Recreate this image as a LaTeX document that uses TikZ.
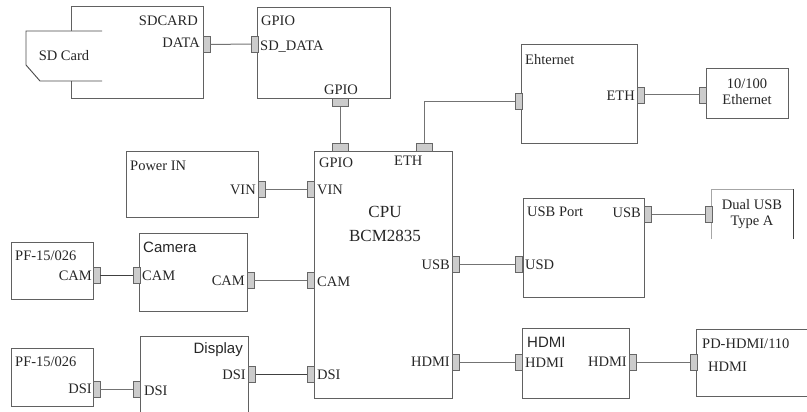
\documentclass[tikz,border=0pt]{standalone}
\usepackage{fontspec}
\setmainfont{Liberation Serif}
\setsansfont{Liberation Sans}
\usetikzlibrary{positioning}
\newcommand{\blockbox}[5]{\node[blk, minimum width=#4, minimum height=#5] (#1) at (#2,#3) {};}
\tikzset{blk/.style={draw=black!62, line width=0.9pt, anchor=north west, inner sep=0pt},
  vport/.style={draw=black!60, fill=black!20, line width=0.8pt, minimum width=7pt, minimum height=16pt, inner sep=0pt},
  hport/.style={draw=black!60, fill=black!20, line width=0.8pt, minimum width=16pt, minimum height=8pt, inner sep=0pt},
  wire/.style={draw=black!55, line width=1pt},
  lbl/.style={font=\fontsize{14.5}{16}\selectfont, inner sep=1pt, text=black!85},
  ttl/.style={font=\sffamily\fontsize{15}{17}\selectfont, inner sep=1pt, text=black!85}}

\begin{document}
\begin{tikzpicture}[x=1pt, y=-1pt]
\useasboundingbox (0,0) rectangle (807,412);
\clip (0,0) rectangle (807,412);
% blocks
\blockbox{sdbox}{71}{6}{132}{92}
\blockbox{gpiobox}{257}{7}{133}{91}
\blockbox{cpubox}{314}{151}{138}{247}
\blockbox{ethbox}{521}{44}{116}{99}
\blockbox{lanbox}{706}{68}{82}{50}
\blockbox{pwrbox}{126}{151}{132}{66}
\blockbox{cambox}{139}{233}{108}{78}
\blockbox{pfcambox}{11}{242}{82}{57}
\blockbox{dispbox}{140}{336}{108}{100}
\blockbox{pfdsibox}{11}{348}{82}{58}
\blockbox{usbbox}{523}{198}{121}{99}
\blockbox{hdmibox}{522}{328}{107}{70}
\blockbox{pdbox}{696}{329}{130}{67}
\draw[black!35, line width=0.9pt] (711,239) -- (711,189) -- (793,189);
\draw[black!75, line width=0.9pt] (793,189) -- (793,239);
% sd card
\fill[white] (102,31) -- (26,31) -- (26,65) -- (40,81) -- (102,81) -- cycle;
\draw[black!70, line width=0.9pt] (102,31) -- (26,31) -- (26,65) -- (40,81) -- (102,81);
\node[lbl] (sdcard) at (64,56) {SD Card};
% ports
\node[vport] (sdData) at (206.5,44.5) {};
\node[vport] (gpioSd) at (255,44) {};
\node[hport] (gpioOut) at (340,102.5) {};
\node[hport] (cpuGpio) at (340,147) {};
\node[hport] (cpuEth) at (424,147) {};
\node[vport] (ethIn) at (519,101.5) {};
\node[vport] (ethOut) at (641,95) {};
\node[vport] (lanIn) at (702.5,95) {};
\node[vport] (pwrVin) at (262,189) {};
\node[vport] (cpuVin) at (310.5,189) {};
\node[vport] (pfCam) at (96.5,275) {};
\node[vport] (camIn) at (136.5,275) {};
\node[vport] (camOut) at (250.5,280) {};
\node[vport] (cpuCam) at (310.5,280) {};
\node[vport] (cpuUsb) at (456,264) {};
\node[vport] (usbIn) at (519,264) {};
\node[vport] (usbOut) at (648,214) {};
\node[vport] (dualIn) at (708.5,214) {};
\node[vport] (pfDsi) at (96.5,389) {};
\node[vport] (dispIn) at (136.5,389) {};
\node[vport] (dispOut) at (252,374) {};
\node[vport] (cpuDsi) at (310.5,374) {};
\node[vport] (cpuHdmi) at (456,362) {};
\node[vport] (hdmiIn) at (519,362) {};
\node[vport] (hdmiOut) at (633,362) {};
\node[vport] (pdIn) at (693.5,362) {};
% wires
\draw[wire] (sdData) -- (gpioSd);
\draw[wire] (gpioOut) -- (cpuGpio);
\draw[wire] (cpuEth) |- (ethIn);
\draw[wire] (ethOut) -- (lanIn);
\draw[wire] (pwrVin) -- (cpuVin);
\draw[wire, black!75] (pfCam) -- (camIn);
\draw[wire] (camOut) -- (cpuCam);
\draw[wire] (cpuUsb) -- (usbIn);
\draw[wire] (usbOut) -- (dualIn);
\draw[wire] (pfDsi) -- (dispIn);
\draw[wire, black!75] (dispOut) -- (cpuDsi);
\draw[wire] (cpuHdmi) -- (hdmiIn);
\draw[wire] (hdmiOut) -- (pdIn);
% labels
\node[lbl, anchor=east] (sdTitle) at (199,21) {SDCARD};
\node[lbl, anchor=east] (sdDataL) at (201,43) {DATA};
\node[lbl, anchor=west] (gpioTitle) at (260,21) {GPIO};
\node[lbl, anchor=west] (gpioSdL) at (259,47) {SD\_DATA};
\node[lbl] (gpioOutL) at (341,90) {GPIO};
\node[lbl, anchor=west] (ethTitle) at (524,60) {Ehternet};
\node[lbl, anchor=east] (ethOutL) at (636,96) {ETH};
\node[lbl, align=center] (lanL) at (747,92) {10/100\\Ethernet};
\node[lbl, anchor=west] (pwrTitle) at (129,166) {Power IN};
\node[lbl, anchor=east] (pwrVinL) at (257,190) {VIN};
\node[lbl, anchor=west] (cpuVinL) at (316,190) {VIN};
\node[lbl, anchor=west] (cpuGpioL) at (318,163) {GPIO};
\node[lbl, anchor=west] (cpuEthL) at (393,161) {ETH};
\node[lbl, align=center, font=\fontsize{17}{24}\selectfont] (cpuL) at (385,224) {CPU\\BCM2835};
\node[lbl, anchor=west] (cpuCamL) at (316,282) {CAM};
\node[lbl, anchor=west] (cpuDsiL) at (316,375) {DSI};
\node[lbl, anchor=east] (cpuUsbL) at (451,265) {USB};
\node[lbl, anchor=east] (cpuHdmiL) at (451,362) {HDMI};
\node[ttl, anchor=west] (camTitle) at (142,247) {Camera};
\node[lbl, anchor=west] (camInL) at (141,276) {CAM};
\node[lbl, anchor=east] (camOutL) at (246,281) {CAM};
\node[lbl, anchor=west] (pfCamTitle) at (14,256) {PF-15/026};
\node[lbl, anchor=east] (pfCamL) at (93,276) {CAM};
\node[ttl, anchor=east] (dispTitle) at (244,350) {Display};
\node[lbl, anchor=east] (dispOutL) at (247,375) {DSI};
\node[lbl, anchor=west] (dispInL) at (143,391) {DSI};
\node[lbl, anchor=west] (pfDsiTitle) at (14,362) {PF-15/026};
\node[lbl, anchor=east] (pfDsiL) at (93,389) {DSI};
\node[lbl, anchor=west] (usbTitle) at (526,212) {USB Port};
\node[lbl, anchor=east] (usbOutL) at (642,213) {USB};
\node[lbl, anchor=west] (usbInL) at (524,265) {USD};
\node[lbl, align=center] (dualL) at (752,214) {Dual USB\\Type A};
\node[ttl, anchor=west] (hdmiTitle) at (526,342) {HDMI};
\node[lbl, anchor=west] (hdmiInL) at (524,363) {HDMI};
\node[lbl, anchor=east] (hdmiOutL) at (628,362) {HDMI};
\node[lbl, anchor=west] (pdTitle) at (701,344) {PD-HDMI/110};
\node[lbl, anchor=west] (pdInL) at (707,367) {HDMI};
\end{tikzpicture}
\end{document}
